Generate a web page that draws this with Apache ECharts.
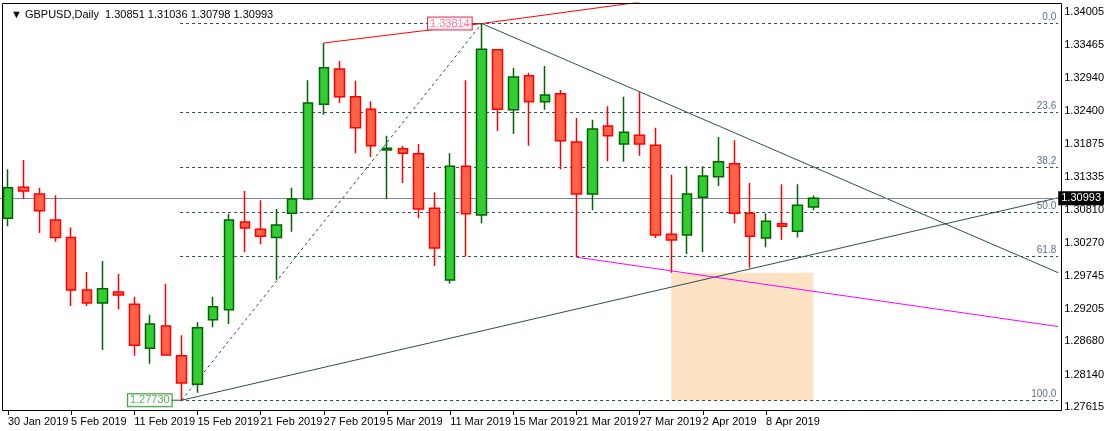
<!DOCTYPE html>
<html><head><meta charset="utf-8">
<script src="https://cdn.jsdelivr.net/npm/echarts@6/dist/echarts.min.js"></script>
<style>html,body{margin:0;padding:0;background:#fff}#c{width:1107px;height:431px}</style>
</head><body><div id="c"></div>
<script>
const dates = ['30 Jan 2019','31 Jan 2019','1 Feb 2019','4 Feb 2019','5 Feb 2019','6 Feb 2019','7 Feb 2019','8 Feb 2019','11 Feb 2019','12 Feb 2019','13 Feb 2019','14 Feb 2019','15 Feb 2019','18 Feb 2019','19 Feb 2019','20 Feb 2019','21 Feb 2019','22 Feb 2019','25 Feb 2019','26 Feb 2019','27 Feb 2019','28 Feb 2019','1 Mar 2019','4 Mar 2019','5 Mar 2019','6 Mar 2019','7 Mar 2019','8 Mar 2019','11 Mar 2019','12 Mar 2019','13 Mar 2019','14 Mar 2019','15 Mar 2019','18 Mar 2019','19 Mar 2019','20 Mar 2019','21 Mar 2019','22 Mar 2019','25 Mar 2019','26 Mar 2019','27 Mar 2019','28 Mar 2019','29 Mar 2019','1 Apr 2019','2 Apr 2019','3 Apr 2019','4 Apr 2019','5 Apr 2019','8 Apr 2019','9 Apr 2019','10 Apr 2019','11 Apr 2019'];
// [open, close, low, high]
const ohlc = [
[1.3067,1.3116,1.3054,1.3146],[1.3117,1.3111,1.3098,1.3161],[1.3106,1.3079,1.3043,1.3116],[1.3064,1.3036,1.3029,1.3104],
[1.3036,1.2951,1.2925,1.3052],[1.2951,1.2930,1.2925,1.2980],[1.2930,1.2953,1.2854,1.2998],[1.2948,1.2943,1.2920,1.2977],
[1.2928,1.2862,1.2845,1.2940],[1.2857,1.2896,1.2832,1.2911],[1.2893,1.2846,1.2846,1.2961],[1.2845,1.2801,1.2773,1.2878],
[1.2799,1.2890,1.2785,1.2899],[1.2903,1.2924,1.2891,1.2940],[1.2919,1.3064,1.2896,1.3074],[1.3061,1.3051,1.3012,1.3111],
[1.3049,1.3038,1.3025,1.3096],[1.3036,1.3056,1.2967,1.3082],[1.3075,1.3098,1.3045,1.3116],[1.3098,1.3253,1.3096,1.3290],
[1.3251,1.3310,1.3234,1.3350],[1.3308,1.3263,1.3253,1.3321],[1.3263,1.3213,1.3172,1.3289],[1.3243,1.3184,1.3166,1.3256],
[1.3177,1.3180,1.3098,1.3200],[1.3179,1.3172,1.3124,1.3184],[1.3171,1.3082,1.3067,1.3187],[1.3083,1.3019,1.2990,1.3109],
[1.2967,1.3151,1.2961,1.3172],[1.3151,1.3074,1.3005,1.3290],[1.3072,1.3340,1.3059,1.33814],[1.3339,1.3243,1.3208,1.3340],
[1.3242,1.3295,1.3203,1.3310],[1.3297,1.3255,1.3184,1.3302],[1.3255,1.3266,1.3242,1.3313],[1.3268,1.3192,1.3146,1.3274],
[1.3190,1.3106,1.3004,1.3229],[1.3106,1.3211,1.3080,1.3226],[1.3216,1.3200,1.3159,1.3248],[1.3187,1.3206,1.3158,1.3263],
[1.3201,1.3187,1.3168,1.3271],[1.3185,1.3040,1.3035,1.3213],[1.3041,1.3032,1.2979,1.3137],[1.3040,1.3106,1.3009,1.3151],
[1.3101,1.3135,1.3012,1.3151],[1.3134,1.3158,1.3119,1.3198],[1.3155,1.3075,1.3059,1.3193],[1.3075,1.3038,1.2987,1.3124],
[1.3035,1.3062,1.3020,1.3075],[1.3058,1.3054,1.3032,1.3122],[1.3046,1.3088,1.3036,1.3122],[1.30851,1.30993,1.30798,1.31036]
];
const yTicks = [1.34005,1.33465,1.32940,1.32400,1.31875,1.31335,1.30810,1.30270,1.29745,1.29205,1.28680,1.28140,1.27615];
const fibNames = ['0.0','23.6','38.2','50.0','61.8','100.0'];
const fibPrices = [1.33814,1.32378,1.31490,1.30772,1.30054,1.27730];
const lastPrice = 1.30993;
const swingHigh = [30, 1.33814];
const swingLow = [11, 1.27730];
const redLine = [[20,1.3350],[30,1.33814],[40,1.3416]];
const supportLine = [[11,1.27730],[66.5,1.3100]];
const resistLine = [[30,1.33814],[66.5,1.2979]];
const magentaLine = [[36,1.3004],[66.5,1.2892]];
const zone = {x:[42,51], y:[1.2773,1.2979]};
const RIGHT = 66.5;

const N = 67;
const cats = dates.concat(Array(N - dates.length).fill(''));
const chart = echarts.init(document.getElementById('c'));
const font = 'Liberation Sans';
const dashed = {color:'#2f4f4f', type:[3,3], width:1};
chart.setOption({
  animation:false,
  textStyle:{fontFamily:font},
  title:{text:'▼ GBPUSD,Daily  1.30851 1.31036 1.30798 1.30993', left:6, top:4, textStyle:{fontSize:11, fontWeight:'normal', color:'#000', fontFamily:font}},
  graphic:[{type:'rect', shape:{x:2.5,y:3.5,width:1059,height:407}, style:{fill:null, stroke:'#000', lineWidth:1}, z:100}],
  grid:{left:-4, top:3, width:1066, height:408},
  xAxis:[
    {type:'category', data:cats, boundaryGap:true,
     axisLine:{show:false},
     axisTick:{show:true, interval:(i)=>i%4===0 && i<dates.length, alignWithLabel:true, length:4, lineStyle:{color:'#000'}},
     axisLabel:{interval:(i)=>i%4===0 && i<dates.length, align:'left', margin:5, fontSize:11, color:'#000', fontFamily:font}},
    {type:'value', min:-0.5, max:N-0.5, show:false}
  ],
  yAxis:{type:'value', position:'right', min:1.27556, max:1.34146, splitLine:{show:false},
    axisLine:{show:false},
    axisTick:{show:false},
    axisLabel:{customValues:yTicks, formatter:v=>v.toFixed(5), fontSize:11, color:'#000', margin:6, fontFamily:font}},
  series:[
    {type:'candlestick', xAxisIndex:0, data:ohlc, barWidth:10,
     itemStyle:{color:'#32cd32', color0:'#ff6347', borderColor:'#006400', borderColor0:'#ff0000', borderWidth:1.5}, z:5},
    {type:'line', xAxisIndex:1, data:[], z:3,
     markLine:{silent:true, symbol:'none', animation:false,
       data: fibPrices.map((p,i)=>[{coord:[swingLow[0]-0.1,p], lineStyle:dashed,
          label:{show:true, position:'insideEndTop', formatter:fibNames[i], color:'#5b7089', fontSize:10, distance:[2,1]}},{coord:[RIGHT,p]}])
        .concat([[{coord:[-0.5,lastPrice], lineStyle:{color:'#778899', type:'solid', width:1},
          label:{show:true, position:'end', formatter:lastPrice.toFixed(5), color:'#fff', backgroundColor:'#000', padding:[2,3,1,3], fontSize:11, distance:0}},{coord:[RIGHT,lastPrice]}]])
     },
     markArea:{silent:true, itemStyle:{color:'#fde3c4'}, data:[[{coord:[zone.x[0],zone.y[0]]},{coord:[zone.x[1],zone.y[1]]}]]}
    },
    {type:'line', xAxisIndex:1, data:redLine, symbol:'none', lineStyle:{color:'#ff0000', width:1}, z:4},
    {type:'line', xAxisIndex:1, data:[swingLow, swingHigh], symbol:'none', lineStyle:{color:'#2f4f4f', width:1, type:[3,3]}, z:4},
    {type:'line', xAxisIndex:1, data:supportLine, symbol:'none', lineStyle:{color:'#2f4f4f', width:1}, z:4},
    {type:'line', xAxisIndex:1, data:resistLine, symbol:'none', lineStyle:{color:'#2f4f4f', width:1}, z:4},
    {type:'line', xAxisIndex:1, data:magentaLine, symbol:'none', lineStyle:{color:'#ff00ff', width:1}, z:4},
    {type:'scatter', xAxisIndex:1, symbolSize:0, z:20, data:[
      {value:swingHigh, label:{show:true, position:'left', distance:10, formatter:swingHigh[1].toFixed(5), color:'#ff5c8a', borderColor:'#e00030', borderWidth:1, backgroundColor:'#fff', padding:[1,2,0,2], fontSize:11}},
      {value:swingLow, label:{show:true, position:'left', distance:10, formatter:swingLow[1].toFixed(5), color:'#2e9b2e', borderColor:'#008000', borderWidth:1, backgroundColor:'#fff', padding:[1,2,0,2], fontSize:11}}
    ]},
    {type:'line', xAxisIndex:1, data:[[swingHigh[0]-0.7,swingHigh[1]],swingHigh], symbol:'none', lineStyle:{color:'#ff0000', width:1}, z:4},
    {type:'line', xAxisIndex:1, data:[[swingLow[0]-0.7,swingLow[1]],swingLow], symbol:'none', lineStyle:{color:'#008000', width:1}, z:4}
  ]
});
</script></body></html>
